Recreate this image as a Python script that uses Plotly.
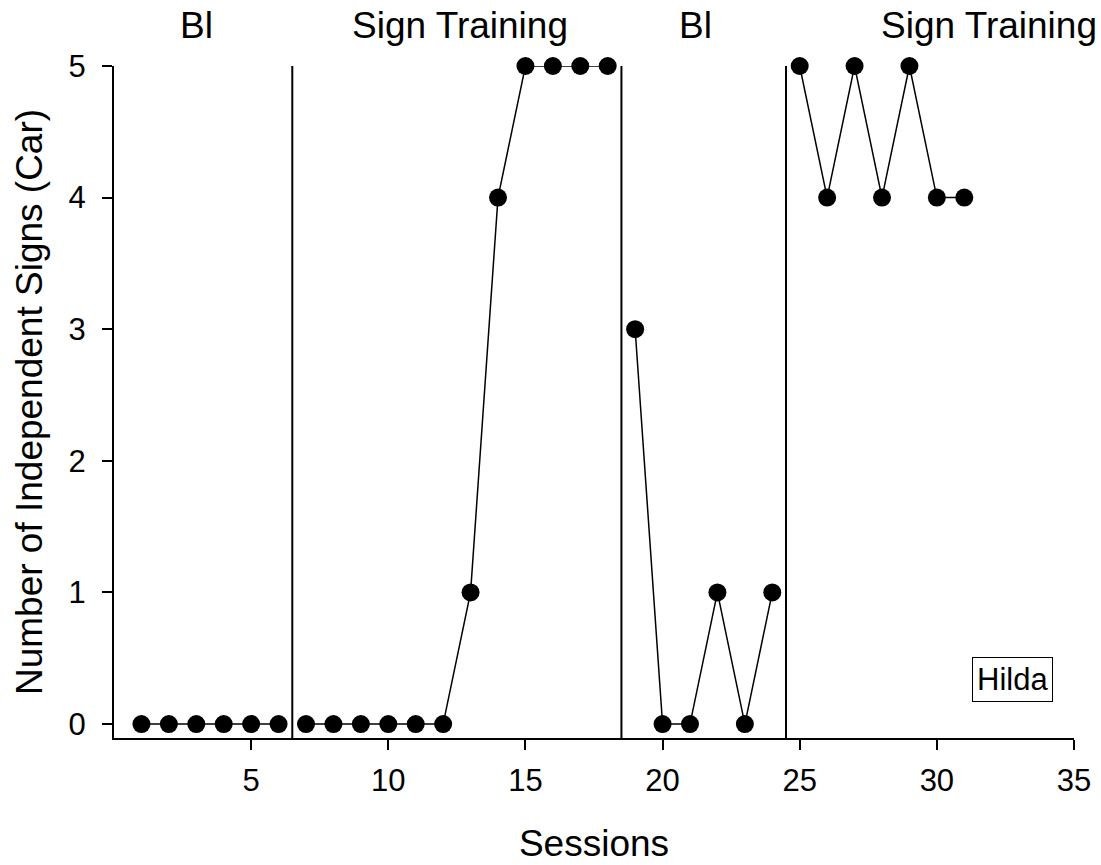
import plotly.graph_objects as go

# Session-by-session counts of independent signs, split by experimental phase
bl1_sessions = [1, 2, 3, 4, 5, 6]
bl1_signs = [0, 0, 0, 0, 0, 0]
st1_sessions = [7, 8, 9, 10, 11, 12, 13, 14, 15, 16, 17, 18]
st1_signs = [0, 0, 0, 0, 0, 0, 1, 4, 5, 5, 5, 5]
bl2_sessions = [19, 20, 21, 22, 23, 24]
bl2_signs = [3, 0, 0, 1, 0, 1]
st2_sessions = [25, 26, 27, 28, 29, 30, 31]
st2_signs = [5, 4, 5, 4, 5, 4, 4]

phase_changes = [6.5, 18.5, 24.5]
phase_labels = ["Bl", "Sign Training", "Bl", "Sign Training"]
phase_label_x = [3.0, 12.63, 21.2, 31.9]

x_ticks = [5, 10, 15, 20, 25, 30, 35]
y_ticks = [0, 1, 2, 3, 4, 5]

FONT = "Liberation Sans, Arial, Helvetica, sans-serif"

fig = go.Figure()
for xs, ys in [(bl1_sessions, bl1_signs), (st1_sessions, st1_signs),
               (bl2_sessions, bl2_signs), (st2_sessions, st2_signs)]:
    fig.add_trace(go.Scatter(
        x=xs, y=ys, mode="lines+markers",
        line=dict(color="black", width=1.5),
        marker=dict(symbol="circle", size=18, color="black"),
        showlegend=False, cliponaxis=False,
    ))

for xc in phase_changes:
    fig.add_shape(type="line", xref="x", yref="paper", x0=xc, x1=xc, y0=0, y1=1,
                  line=dict(color="black", width=2))

for txt, xl in zip(phase_labels, phase_label_x):
    fig.add_annotation(x=xl, xref="x", y=1.061, yref="paper", text=txt,
                       showarrow=False, xanchor="center", yanchor="middle",
                       font=dict(family=FONT, size=37, color="black"))

fig.add_annotation(x=32.74, y=0.339, xref="x", yref="y", text="Hilda",
                   showarrow=False, xanchor="center", yanchor="middle",
                   bordercolor="black", borderwidth=1, borderpad=4,
                   font=dict(family=FONT, size=31, color="black"))

fig.update_layout(
    width=1101, height=865,
    margin=dict(l=114.4, r=26.7, t=66, b=127),
    plot_bgcolor="white", paper_bgcolor="white",
    font=dict(family=FONT, color="black"),
)
fig.update_xaxes(
    range=[0, 35], tickvals=x_ticks, ticks="outside", ticklen=10, tickwidth=2,
    tickcolor="black", showline=True, linecolor="black", linewidth=2,
    showgrid=False, zeroline=False, tickfont=dict(size=31), ticklabelstandoff=4,
    automargin=False,
    title=dict(text="Sessions", font=dict(size=37), standoff=33),
)
fig.update_yaxes(
    range=[-0.106, 5], tickvals=y_ticks, ticks="outside", ticklen=10, tickwidth=2,
    tickcolor="black", showline=True, linecolor="black", linewidth=2,
    showgrid=False, zeroline=False, tickfont=dict(size=31), ticklabelstandoff=10,
    automargin=False,
    title=dict(text="Number of Independent Signs (Car)", font=dict(size=37), standoff=15),
)

fig.write_html("out.html")
